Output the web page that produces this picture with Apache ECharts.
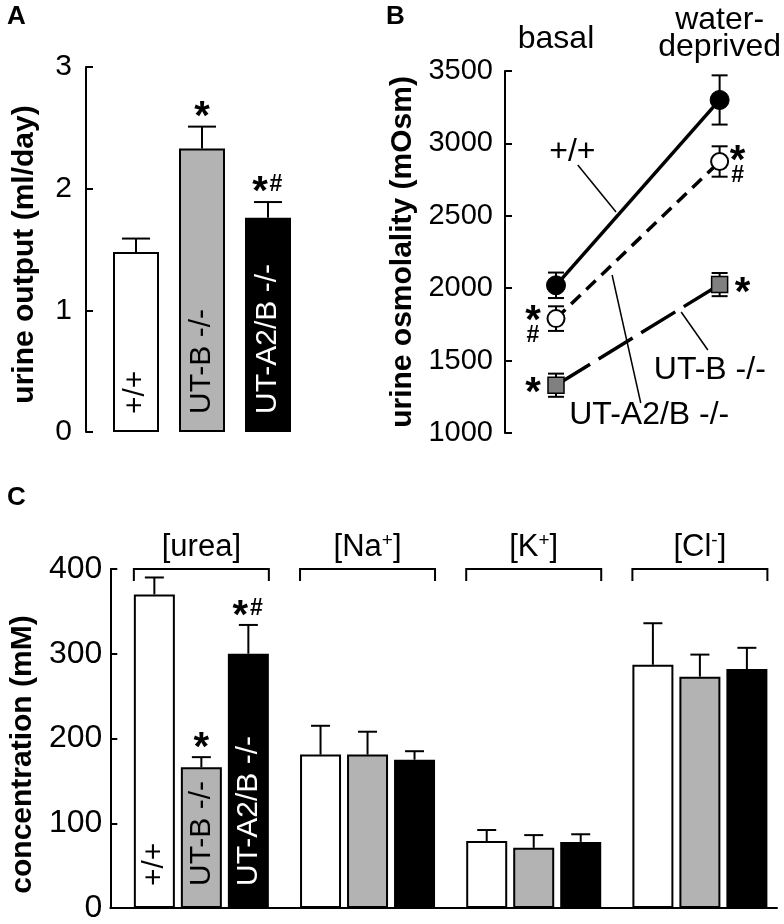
<!DOCTYPE html>
<html><head><meta charset="utf-8">
<script src="https://cdn.jsdelivr.net/npm/echarts@6/dist/echarts.min.js"></script>
<style>html,body{margin:0;padding:0;background:#fff}#c{width:784px;height:924px}</style>
</head><body><div id="c"></div>
<script>
// ---------------- DATA ----------------
// Panel A: urine output (ml/day)
const genotypes = ['+/+', 'UT-B -/-', 'UT-A2/B -/-'];
const urineOutput = [1.48, 2.33, 1.76];
const urineOutputErr = [0.11, 0.18, 0.13];
const sigA = ['', '*', '*#'];

// Panel B: urine osmolality (mOsm)
const conditions = ['basal', 'water-\ndeprived'];
const osmWT = [2020, 3300];
const osmWTErr = [88, 170];
const osmA2B = [1790, 2875];
const osmA2BErr = [85, 105];
const osmB = [1330, 2025];
const osmBErr = [80, 80];
const sigOsmA2B = ['*#', '*#'];
const sigOsmB = ['*', '*'];

// Panel C: concentration (mM)
const ionNames = ['urea', 'Na', 'K', 'Cl'];
const ionCharges = ['', '+', '+', '-'];
const concWT = [370, 181, 79, 287];
const concWTErr = [20, 34, 13, 49];
const concB = [166, 181, 71, 273];
const concBErr = [12, 27, 15, 26];
const concA2B = [300, 175, 78, 282];
const concA2BErr = [34, 10, 9, 25];
const sigConcWT = ['', '', '', ''];
const sigConcB = ['*', '', '', ''];
const sigConcA2B = ['*#', '', '', ''];

// ---------------- STYLE ----------------
const FONT = "'Liberation Sans', Arial, Helvetica, sans-serif";
const WHITE = '#ffffff', GRAY = '#b3b3b3', BLACK = '#000000', SQGRAY = '#808080';
const fills = [WHITE, GRAY, BLACK];
const inLabelColor = [BLACK, BLACK, WHITE];

const chart = echarts.init(document.getElementById('c'), null, {renderer: 'canvas'});

function yAxisBase(extra) {
  return Object.assign({
    type: 'value', splitLine: {show: false},
    axisLine: {show: true, onZero: false, lineStyle: {color: '#000', width: 2}},
    axisTick: {show: true, inside: true, length: 7, lineStyle: {color: '#000', width: 2}},
    nameLocation: 'middle',
    nameTextStyle: {fontFamily: FONT, fontWeight: 'bold', fontSize: 30, color: '#000'}
  }, extra);
}

function starEl(x, y) {
  return {type: 'text', x: x, y: y + 8, style: {text: '*', fontFamily: FONT, fontSize: 40, fontWeight: 'bold', fill: '#000', align: 'center', verticalAlign: 'middle'}};
}
function hashEl(x, y) {
  return {type: 'text', x: x, y: y, style: {text: '#', fontFamily: FONT, fontSize: 23, fontWeight: 'bold', fill: '#000', align: 'center', verticalAlign: 'middle'}};
}
function sigEls(str, cx, cy) {
  if (str === '*') return [starEl(cx, cy)];
  if (str === '*#') return [starEl(cx - 8, cy), hashEl(cx + 8, cy)];
  return [];
}

function errBarRender(errArr, sigArr, offsetPx, capW, sigGap) {
  return function (params, api) {
    const i = params.dataIndex;
    const xv = api.value(0), v = api.value(1), e = errArr[i];
    const base = api.coord([xv, v]);
    const top = api.coord([xv, v + e]);
    const cx = base[0] + offsetPx;
    const ls = {stroke: '#000', lineWidth: 2};
    let children = [
      {type: 'line', shape: {x1: cx, y1: base[1], x2: cx, y2: top[1]}, style: ls},
      {type: 'line', shape: {x1: cx - capW / 2, y1: top[1], x2: cx + capW / 2, y2: top[1]}, style: ls}
    ];
    if (sigArr && sigArr[i]) children = children.concat(sigEls(sigArr[i], cx, top[1] - sigGap));
    return {type: 'group', children: children};
  };
}

// ---- Panel C bar layout ----
const BW_C = 41, GAP_C = 6;
function barSeriesC(vals, k) {
  return {
    type: 'bar', xAxisIndex: 2, yAxisIndex: 2, barWidth: BW_C, barGap: (GAP_C / BW_C * 100) + '%',
    data: vals.map((v, i) => {
      const d = {value: [i, v]};
      if (i === 0) {
        d.label = {show: true, formatter: genotypes[k], position: 'insideBottom', distance: 22,
                   rotate: 90, align: 'left', verticalAlign: 'middle',
                   fontFamily: FONT, fontSize: 30, color: inLabelColor[k]};
      }
      return d;
    }),
    itemStyle: {color: fills[k], borderColor: '#000', borderWidth: 2},
    z: 2
  };
}
function errSeriesC(vals, errs, sig, k) {
  return {
    type: 'custom', xAxisIndex: 2, yAxisIndex: 2, z: 3,
    data: vals.map((v, i) => [i, v]),
    renderItem: errBarRender(errs, sig, (k - 1) * (BW_C + GAP_C), 19, 16)
  };
}

// ---- Panel B annotations (data coordinates: x fraction between basal(0) and deprived(1)) ----
const annB = [
  {text: '+/+', at: [0.10, 2940], from: [0.133, 2851], to: [0.367, 2526]},
  {text: 'UT-A2/B -/-', at: [0.57, 1124], from: [0.343, 2091], to: [0.518, 1207]},
  {text: 'UT-B -/-', at: [0.94, 1435], from: [0.765, 1836], to: [0.928, 1573]}
];
function bCoord(api, x, y) {
  const p0 = api.coord([0, y]), p1 = api.coord([1, y]);
  return [p0[0] + x * (p1[0] - p0[0]), p0[1]];
}

const option = {
  animation: false,
  backgroundColor: '#fff',
  textStyle: {fontFamily: FONT, color: '#000'},
  grid: [
    {left: 103, top: 67, width: 198, height: 365},
    {left: 556, top: 71, width: 166, height: 362},
    {left: 103, top: 569, width: 674, height: 340}
  ],
  xAxis: [
    {type: 'category', gridIndex: 0, data: genotypes, axisLine: {show: false}, axisTick: {show: false}, axisLabel: {show: false}},
    {type: 'category', gridIndex: 1, boundaryGap: false, position: 'top',
     data: [{value: conditions[0], textStyle: {padding: [0, 0, 8, 0]}}, {value: conditions[1]}],
     axisLine: {show: false}, axisTick: {show: false},
     axisLabel: {fontFamily: FONT, fontSize: 32, color: '#000', margin: 10, lineHeight: 27}},
    {type: 'value', gridIndex: 2, min: -0.548, max: 3.464, splitLine: {show: false},
     axisLine: {show: true, onZero: false, lineStyle: {color: '#000', width: 2}},
     axisTick: {show: false}, axisLabel: {show: false}}
  ],
  yAxis: [
    yAxisBase({gridIndex: 0, min: 0, max: 3, interval: 1, offset: 17,
      name: 'urine output (ml/day)', nameGap: 46,
      nameTextStyle: {fontFamily: FONT, fontWeight: 'bold', fontSize: 30, color: '#000', padding: [0, 10, 0, 0]},
      axisLabel: {fontFamily: FONT, fontSize: 30, color: '#000', margin: 14}}),
    yAxisBase({gridIndex: 1, min: 1000, max: 3500, interval: 500, offset: 51,
      name: 'urine osmolality (mOsm)', nameGap: 87,
      axisLabel: {fontFamily: FONT, fontSize: 29, color: '#000', margin: 12, formatter: v => String(v)}}),
    yAxisBase({gridIndex: 2, min: 0, max: 400, interval: 100,
      name: 'concentration (mM)', nameGap: 61,
      nameTextStyle: {fontFamily: FONT, fontWeight: 'bold', fontSize: 30, color: '#000', padding: [0, 32, 0, 0]},
      axisLabel: {fontFamily: FONT, fontSize: 32, color: '#000', margin: 8, formatter: v => String(v)}})
  ],
  graphic: [
    {type: 'text', left: 7, top: 4, style: {text: 'A', fontFamily: FONT, fontSize: 26, fontWeight: 'bold', fill: '#000'}},
    {type: 'text', left: 386, top: 4, style: {text: 'B', fontFamily: FONT, fontSize: 26, fontWeight: 'bold', fill: '#000'}},
    {type: 'text', left: 7, top: 485, style: {text: 'C', fontFamily: FONT, fontSize: 26, fontWeight: 'bold', fill: '#000'}}
  ],
  series: [
    // ---- Panel A ----
    {type: 'bar', xAxisIndex: 0, yAxisIndex: 0, barWidth: 46, z: 2,
     data: urineOutput.map((v, i) => ({value: v,
       itemStyle: {color: fills[i], borderColor: '#000', borderWidth: 2},
       label: {show: true, formatter: genotypes[i], position: 'insideBottom', distance: 18,
               rotate: 90, align: 'left', verticalAlign: 'middle',
               fontFamily: FONT, fontSize: 30, color: inLabelColor[i]}}))},
    {type: 'custom', xAxisIndex: 0, yAxisIndex: 0, z: 3,
     data: urineOutput.map((v, i) => [i, v]),
     renderItem: errBarRender(urineOutputErr, sigA, 0, 28, 17)},

    // ---- Panel B ----
    {type: 'custom', xAxisIndex: 1, yAxisIndex: 1, z: 1,
     data: [0, 1].map(i => [i]),
     renderItem: function (params, api) {
       const i = params.dataIndex;
       const sets = [[osmWT, osmWTErr], [osmA2B, osmA2BErr], [osmB, osmBErr]];
       const ch = [];
       const ls = {stroke: '#000', lineWidth: 2};
       sets.forEach(([v, e]) => {
         const hi = api.coord([i, v[i] + e[i]]), lo = api.coord([i, v[i] - e[i]]);
         ch.push({type: 'line', shape: {x1: hi[0], y1: hi[1], x2: lo[0], y2: lo[1]}, style: ls});
         ch.push({type: 'line', shape: {x1: hi[0] - 8, y1: hi[1], x2: hi[0] + 8, y2: hi[1]}, style: ls});
         ch.push({type: 'line', shape: {x1: lo[0] - 8, y1: lo[1], x2: lo[0] + 8, y2: lo[1]}, style: ls});
       });
       return {type: 'group', children: ch};
     }},
    {type: 'line', name: '+/+', xAxisIndex: 1, yAxisIndex: 1, z: 3, data: osmWT,
     symbol: 'circle', symbolSize: 19, lineStyle: {color: '#000', width: 3.5},
     itemStyle: {color: '#000', borderColor: '#000', borderWidth: 1}},
    {type: 'line', name: 'UT-A2/B -/-', xAxisIndex: 1, yAxisIndex: 1, z: 3, data: osmA2B,
     symbol: 'circle', symbolSize: 17, lineStyle: {color: '#000', width: 3.5, type: [13, 8]},
     itemStyle: {color: '#fff', borderColor: '#000', borderWidth: 2}},
    {type: 'line', name: 'UT-B -/-', xAxisIndex: 1, yAxisIndex: 1, z: 3, data: osmB,
     symbol: 'rect', symbolSize: 16, lineStyle: {color: '#000', width: 3.5, type: [40, 10]},
     itemStyle: {color: SQGRAY, borderColor: '#000', borderWidth: 1.5}},
    // annotations panel B
    {type: 'custom', xAxisIndex: 1, yAxisIndex: 1, z: 4, data: [[0]],
     renderItem: function (params, api) {
       let ch = [];
       annB.forEach(a => {
         const f = bCoord(api, a.from[0], a.from[1]), t = bCoord(api, a.to[0], a.to[1]);
         const p = bCoord(api, a.at[0], a.at[1]);
         ch.push({type: 'line', shape: {x1: f[0], y1: f[1], x2: t[0], y2: t[1]}, style: {stroke: '#000', lineWidth: 1.5}});
         ch.push({type: 'text', x: p[0], y: p[1], style: {text: a.text, fontFamily: FONT, fontSize: 32, fill: '#000', align: 'center', verticalAlign: 'middle'}});
       });
       [0, 1].forEach(i => {
         const side = i === 0 ? -1 : 1;
         const pa = api.coord([i, osmA2B[i]]);
         const ax = pa[0] + side * (i === 0 ? 23 : 18);
         if (sigOsmA2B[i].includes('*')) ch.push(starEl(ax, pa[1] + (i === 0 ? -5 : -8)));
         if (sigOsmA2B[i].includes('#')) ch.push(hashEl(ax, pa[1] + (i === 0 ? 17 : 14)));
         const pb = api.coord([i, osmB[i]]);
         if (sigOsmB[i].includes('*')) ch.push(starEl(pb[0] + side * 23, pb[1] + 1));
       });
       return {type: 'group', children: ch};
     }},

    // ---- Panel C ----
    barSeriesC(concWT, 0), barSeriesC(concB, 1), barSeriesC(concA2B, 2),
    errSeriesC(concWT, concWTErr, sigConcWT, 0),
    errSeriesC(concB, concBErr, sigConcB, 1),
    errSeriesC(concA2B, concA2BErr, sigConcA2B, 2),
    // group brackets and labels
    {type: 'custom', xAxisIndex: 2, yAxisIndex: 2, z: 4, data: ionNames.map((n, i) => [i]),
     renderItem: function (params, api) {
       const i = params.dataIndex;
       const c = api.coord([i, 400]);
       const half = 1.5 * BW_C + GAP_C;
       const ls = {stroke: '#000', lineWidth: 2, fill: null};
       const txt = ionCharges[i]
         ? '{n|[' + ionNames[i] + '}{s|' + ionCharges[i] + '}{n|]}'
         : '{n|[' + ionNames[i] + ']}';
       return {type: 'group', children: [
         {type: 'polyline', shape: {points: [[c[0] - half, c[1] + 12], [c[0] - half, c[1]], [c[0] + half, c[1]], [c[0] + half, c[1] + 12]]}, style: ls},
         {type: 'text', x: c[0], y: c[1] - 22, style: {text: txt, align: 'center', verticalAlign: 'middle',
           rich: {n: {fontFamily: FONT, fontSize: 31, color: '#000', lineHeight: 32, verticalAlign: 'middle'},
                  s: {fontFamily: FONT, fontSize: 19, color: '#000', lineHeight: 19, verticalAlign: 'top'}}}}
       ]};
     }}
  ]
};
chart.setOption(option);
</script></body></html>
